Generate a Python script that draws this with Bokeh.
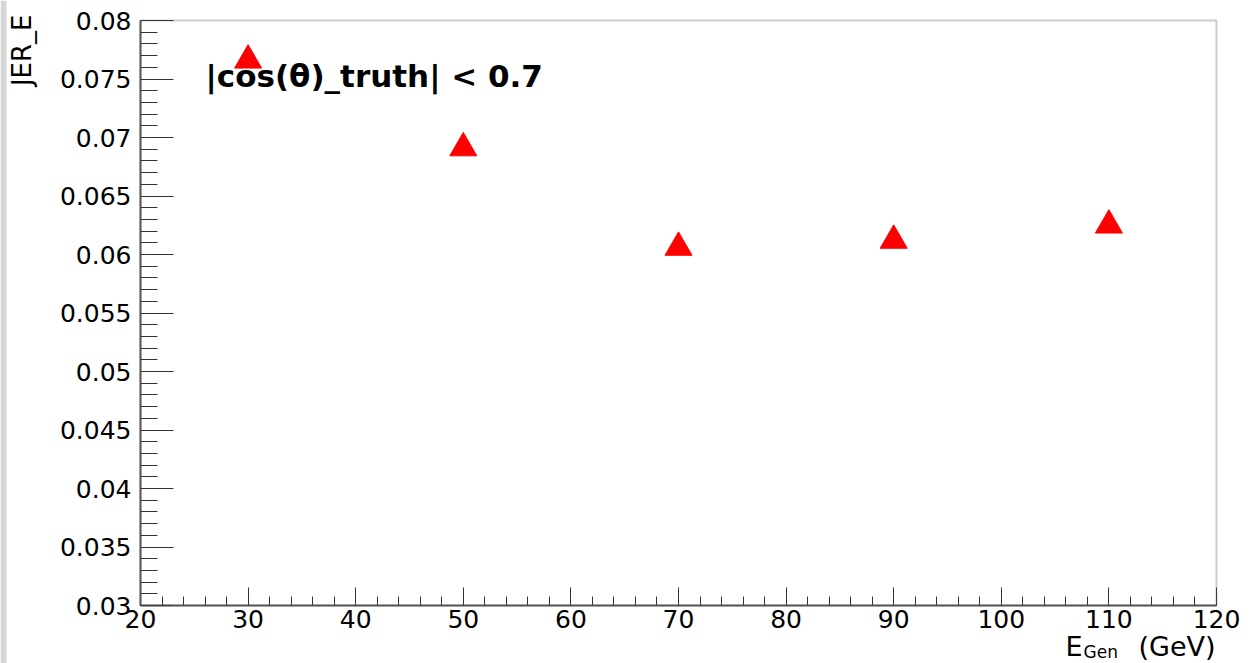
import math

from bokeh.embed import file_html
from bokeh.models import (BoxAnnotation, ColumnDataSource, CustomJSTickFormatter,
                          Grid, Label, LinearAxis, Range1d, SingleIntervalTicker)
from bokeh.plotting import figure
from bokeh.resources import INLINE

# Jet energy resolution versus generated energy
e_gen = [30, 50, 70, 90, 110]
jer_e = [0.0766, 0.0691, 0.0606, 0.0612, 0.0625]

x_start, x_end = 20, 120
y_start, y_end = 0.03, 0.08

W, H = 1254, 663
# pixel edges of the axis box on the canvas
BL, BR, BT, BB = 140, 1216, 20, 605

# The plotting frame covers the whole canvas; the axes sit at fixed
# positions, so the ranges are widened to leave room for ticks and titles.
xs = (x_end - x_start) / (BR - BL)
ys = (y_end - y_start) / (BB - BT)
x_range = Range1d(x_start - BL * xs, x_end + (W - BR) * xs)
y_range = Range1d(y_start - (H - BB) * ys, y_end + BT * ys)

p = figure(
    width=W, height=H, x_range=x_range, y_range=y_range,
    output_backend="svg", toolbar_location=None, title=None,
    x_axis_location=None, y_axis_location=None,
    min_border=0, min_border_left=0, min_border_right=0,
    min_border_top=0, min_border_bottom=0,
    background_fill_color="white", border_fill_color="white",
)
p.outline_line_color = None
# no grid lines
p.center = [r for r in p.center if not isinstance(r, Grid)]

FONT = "DejaVu Sans"
FRAME = "#5a5a5a"


def style_axis(ax):
    ax.axis_line_color = FRAME
    ax.axis_line_width = 2
    ax.major_tick_line_color = "#333333"
    ax.minor_tick_line_color = "#333333"
    ax.major_tick_out = 0
    ax.minor_tick_out = 0
    ax.major_label_text_font = FONT
    ax.major_label_text_font_size = "25px"
    ax.major_label_text_color = "black"
    ax.formatter = CustomJSTickFormatter(code="return Number(tick.toFixed(4)).toString();")


xaxis = LinearAxis(fixed_location=y_start, bounds=(x_start, x_end),
                   ticker=SingleIntervalTicker(interval=10, num_minor_ticks=5))
style_axis(xaxis)
xaxis.major_tick_in = 18
xaxis.minor_tick_in = 9
xaxis.major_label_standoff = 4
p.add_layout(xaxis, "below")

yaxis = LinearAxis(fixed_location=x_start, bounds=(y_start, y_end),
                   ticker=SingleIntervalTicker(interval=0.005, num_minor_ticks=5))
style_axis(yaxis)
yaxis.major_tick_in = 33
yaxis.minor_tick_in = 17
yaxis.major_label_standoff = 9
p.add_layout(yaxis, "left")

# closing lines of the axis box
p.add_layout(BoxAnnotation(left=x_start, right=x_end, bottom=y_start, top=y_end,
                           fill_alpha=0, line_color=FRAME, line_width=2))

src = ColumnDataSource(dict(x=e_gen, y=jer_e))
p.scatter("x", "y", source=src, marker="triangle", size=27,
          fill_color="#ff0000", line_color="#ff0000")


# canvas pixel (from top-left) -> screen units (from bottom-left)
def sy(cy):
    return H - cy


# light strip along the left edge of the canvas
p.add_layout(BoxAnnotation(left=0, right=6, bottom=0, top=H,
                           left_units="screen", right_units="screen",
                           bottom_units="screen", top_units="screen",
                           fill_color="#d6d6d6", fill_alpha=1, line_alpha=0,
                           level="underlay"))

# selection cut
p.add_layout(Label(x=205, y=sy(75), x_units="screen", y_units="screen",
                   text="|cos(θ)_truth| < 0.7", text_font=FONT,
                   text_font_style="bold", text_font_size="31px",
                   text_color="black", text_baseline="alphabetic",
                   text_align="left"))

# y-axis title, aligned with the top of the axis
p.add_layout(Label(x=21, y=sy(14), x_units="screen", y_units="screen",
                   text="JER_E", angle=math.pi / 2, text_font=FONT,
                   text_font_size="26px", text_color="black",
                   text_align="right", text_baseline="middle"))

# x-axis title, aligned with the right end of the axis: E_Gen (GeV)
p.add_layout(Label(x=1082, y=sy(646), x_units="screen", y_units="screen",
                   text="E", text_font=FONT, text_font_size="27px",
                   text_color="black", text_align="right",
                   text_baseline="alphabetic"))
p.add_layout(Label(x=1083, y=sy(651), x_units="screen", y_units="screen",
                   text="Gen", text_font=FONT, text_font_size="17px",
                   text_color="black", text_align="left",
                   text_baseline="alphabetic"))
p.add_layout(Label(x=1215, y=sy(646), x_units="screen", y_units="screen",
                   text="(GeV)", text_font=FONT, text_font_size="27px",
                   text_color="black", text_align="right",
                   text_baseline="alphabetic"))

open("out.html", "w").write(file_html(p, INLINE))
